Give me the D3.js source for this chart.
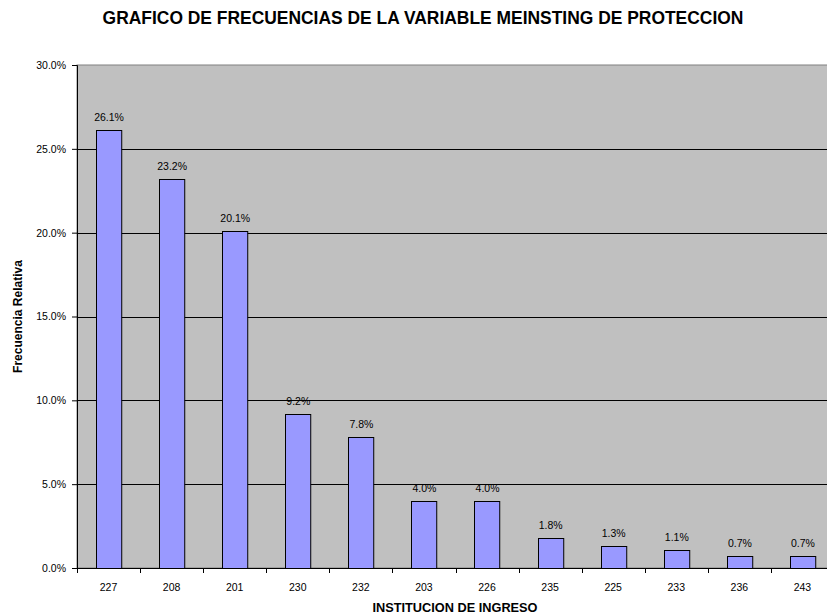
<!DOCTYPE html>
<html>
<head>
<meta charset="utf-8">
<script src="https://cdn.jsdelivr.net/npm/d3@7"></script>
<style>
  body { margin: 0; background: #fff; }
  svg { display: block; font-family: Arial, "Liberation Sans", sans-serif; }
</style>
</head>
<body>
<div id="chart"></div>
<script>
const categories = ["227", "208", "201", "230", "232", "203", "226", "235", "225", "233", "236", "243"];
const values = [26.1, 23.2, 20.1, 9.2, 7.8, 4.0, 4.0, 1.8, 1.3, 1.1, 0.7, 0.7];
const yTicks = [0, 5, 10, 15, 20, 25, 30];

const width = 827, height = 616;
const margin = { left: 77, top: 65, right: -7, bottom: 48 };
const innerW = width - margin.left - margin.right;
const innerH = height - margin.top - margin.bottom;

const svg = d3.select("#chart").append("svg")
  .attr("width", width)
  .attr("height", height);

// scale a text's font size so it spans the wanted width
function fitText(sel, target) {
  const base = +sel.attr("font-size");
  const w = sel.node().getComputedTextLength();
  sel.attr("font-size", (base * target / w).toFixed(2));
}

svg.append("text")
  .attr("x", 423)
  .attr("y", 23.5)
  .attr("text-anchor", "middle")
  .attr("font-size", 15)
  .attr("font-weight", "bold")
  .text("GRAFICO DE FRECUENCIAS DE LA VARIABLE MEINSTING DE PROTECCION")
  .call(fitText, 641);

const g = svg.append("g").attr("transform", `translate(${margin.left},${margin.top})`);

const x = d3.scaleBand().domain(categories).range([0, innerW]).paddingInner(0.6).paddingOuter(0.3);
const y = d3.scaleLinear().domain([0, 30]).range([innerH, 0]);

// plot area
g.append("rect")
  .attr("width", innerW)
  .attr("height", innerH)
  .attr("fill", "#c0c0c0")
  .attr("stroke", "#808080");

// gridlines
g.selectAll("line.grid").data(yTicks.slice(1, -1))
  .join("line")
  .attr("class", "grid")
  .attr("x1", 0).attr("x2", innerW)
  .attr("y1", d => Math.round(y(d)) + 0.5)
  .attr("y2", d => Math.round(y(d)) + 0.5)
  .attr("stroke", "#000");

// bars
g.selectAll("rect.bar").data(values)
  .join("rect")
  .attr("class", "bar")
  .attr("x", (d, i) => Math.round(x(categories[i])) + 0.5)
  .attr("y", d => Math.round(y(d)) + 0.5)
  .attr("width", x.bandwidth())
  .attr("height", d => innerH - Math.round(y(d)))
  .attr("fill", "#9999ff")
  .attr("stroke", "#000");

// value labels
g.selectAll("text.val").data(values)
  .join("text")
  .attr("class", "val")
  .attr("x", (d, i) => x(categories[i]) + x.bandwidth() / 2 + 0.5)
  .attr("y", d => y(d) - 9)
  .attr("text-anchor", "middle")
  .attr("font-size", 10.5)
  .text(d => d.toFixed(1) + "%");

// y axis
const yAxis = g.append("g")
  .call(d3.axisLeft(y).tickValues(yTicks).tickSize(5).tickFormat(d => d.toFixed(1) + "%"));
yAxis.select(".domain").attr("stroke", "#000");
yAxis.selectAll("text").attr("font-size", 10.5).attr("font-family", "Arial, 'Liberation Sans', sans-serif").attr("fill", "#000").attr("x", -11);

// x axis: ticks on category boundaries
const xAxis = g.append("g").attr("transform", `translate(0,${innerH})`);
xAxis.append("line").attr("x1", 0).attr("x2", innerW).attr("y1", 0.5).attr("y2", 0.5).attr("stroke", "#000");
const step = x.step();
const bounds = d3.range(categories.length + 1).map(i => i * step);
xAxis.selectAll("line.tk").data(bounds)
  .join("line")
  .attr("class", "tk")
  .attr("x1", d => Math.round(d) + 0.5).attr("x2", d => Math.round(d) + 0.5)
  .attr("y1", 0).attr("y2", 5)
  .attr("stroke", "#000");
xAxis.selectAll("text").data(categories)
  .join("text")
  .attr("x", d => x(d) + x.bandwidth() / 2)
  .attr("y", 22.5)
  .attr("text-anchor", "middle")
  .attr("font-size", 10.5)
  .text(d => d);

// axis titles
svg.append("text")
  .attr("x", 455)
  .attr("y", 612)
  .attr("text-anchor", "middle")
  .attr("font-size", 11)
  .attr("font-weight", "bold")
  .text("INSTITUCION DE INGRESO")
  .call(fitText, 165);

svg.append("text")
  .attr("transform", `translate(21.5,316.5) rotate(-90)`)
  .attr("text-anchor", "middle")
  .attr("font-size", 11)
  .attr("font-weight", "bold")
  .text("Frecuencia Relativa")
  .call(fitText, 113);
</script>
</body>
</html>
